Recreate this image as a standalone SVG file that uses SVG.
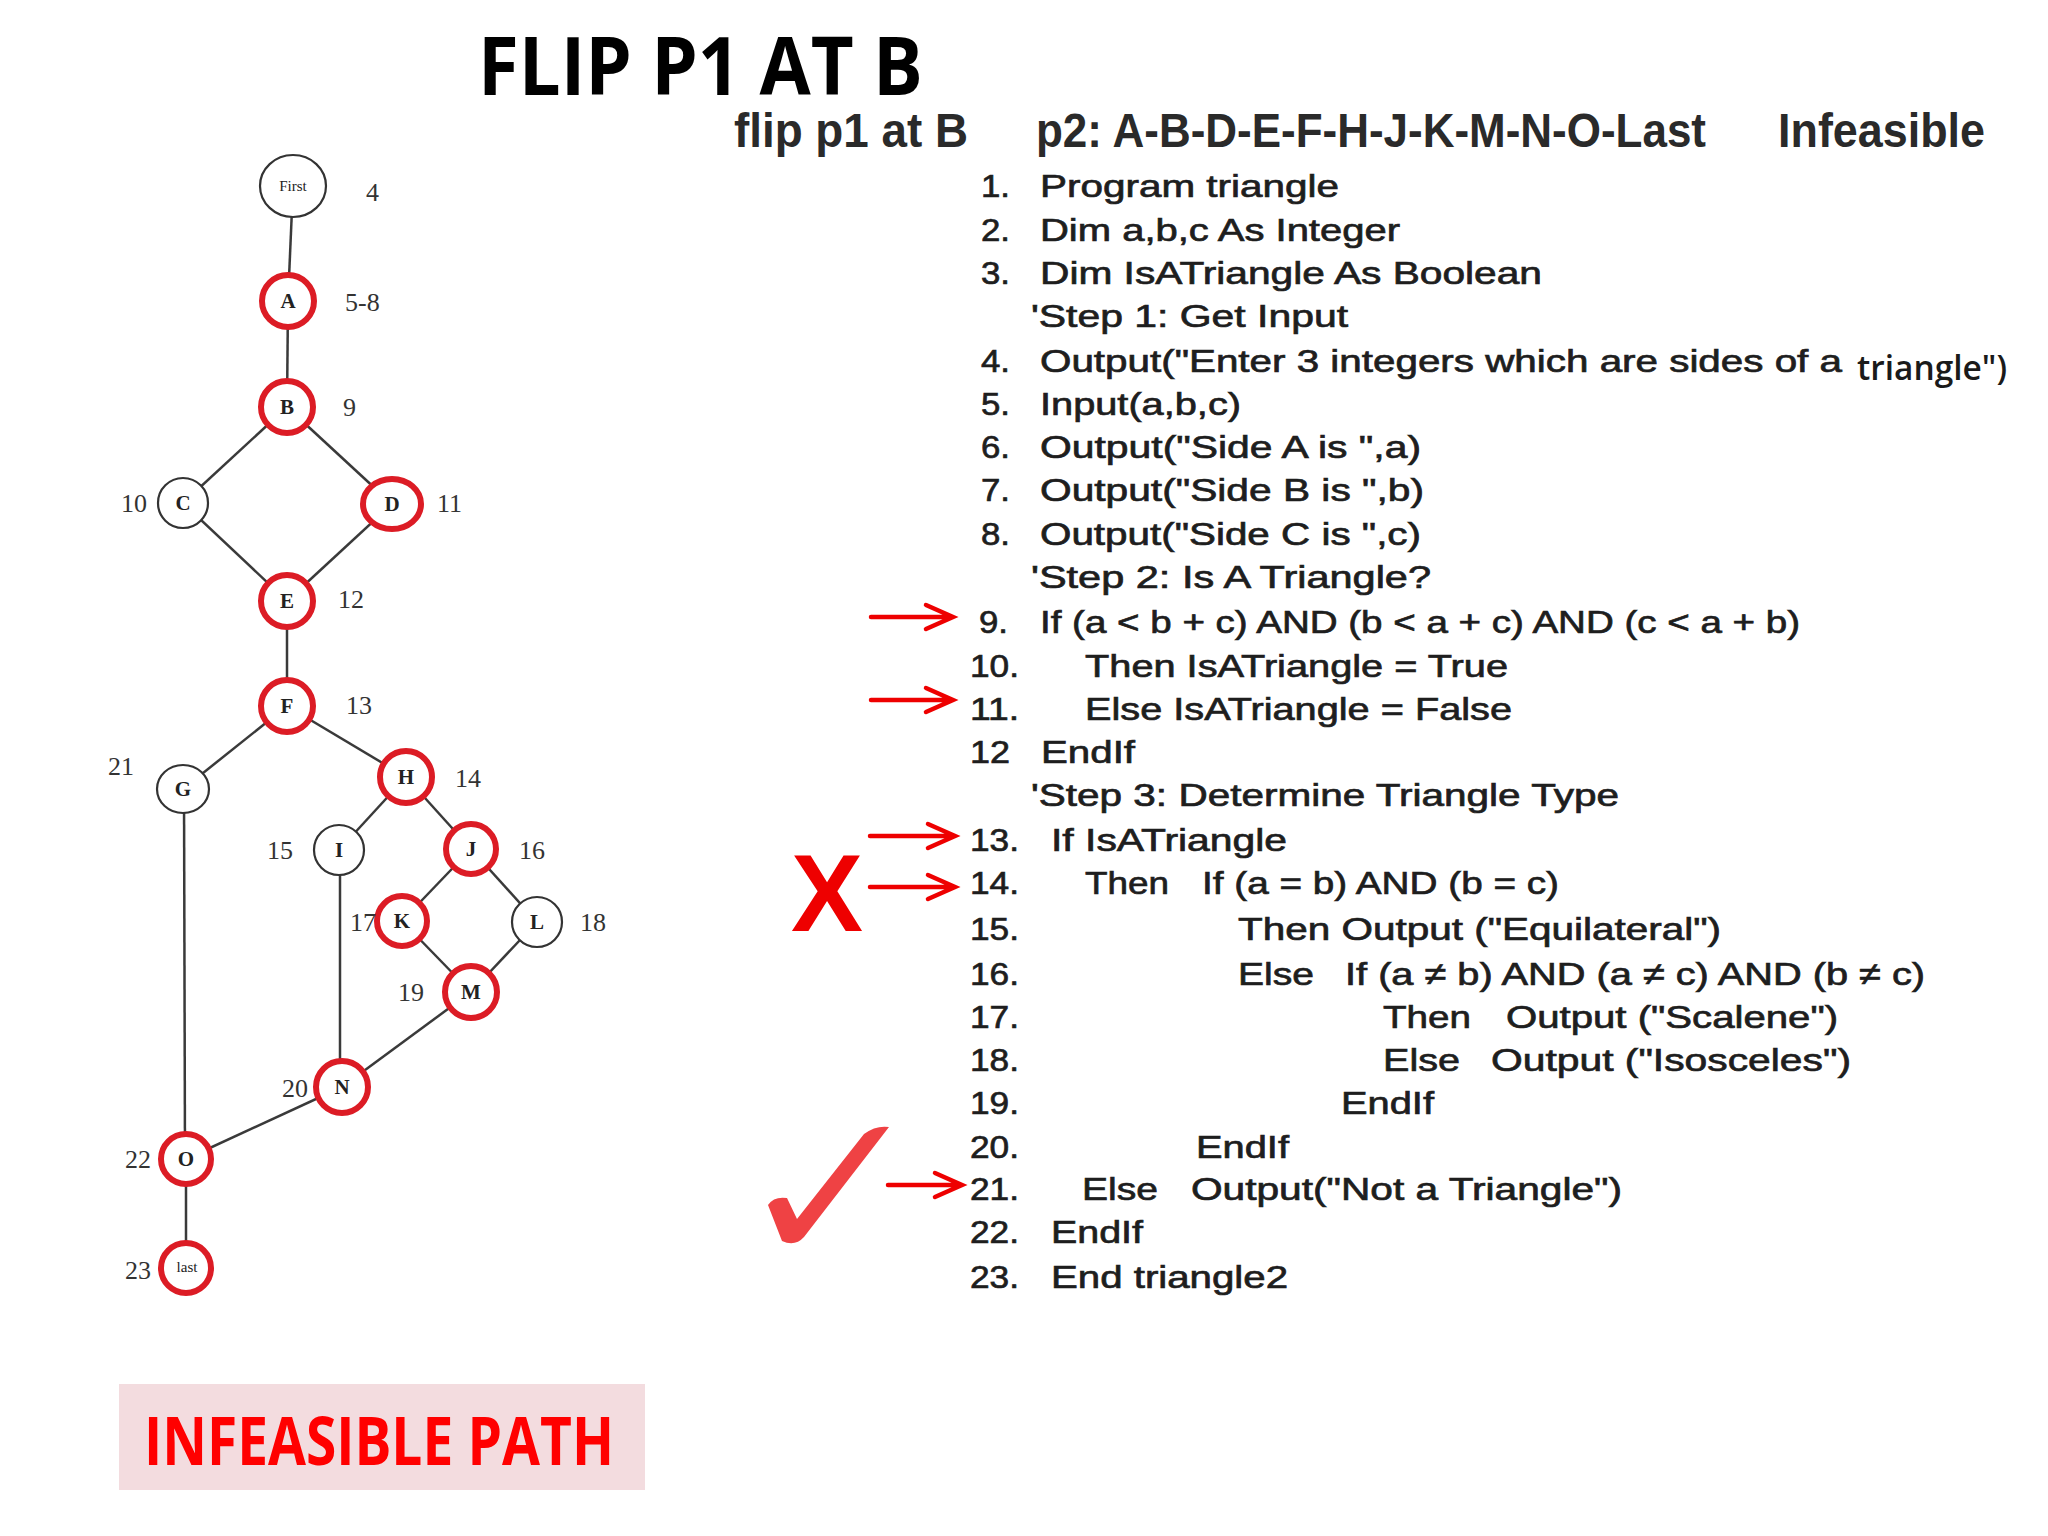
<svg xmlns="http://www.w3.org/2000/svg" width="2048" height="1536" viewBox="0 0 2048 1536">
<defs>
<style>
.title{font-family:"Open Sans","Liberation Sans",sans-serif;font-weight:bold;fill:#000}
.sub{font-family:"Liberation Sans",Arial,sans-serif;font-weight:bold;font-size:48px;fill:#2a2a2a}
.code{font-family:"Liberation Sans",Arial,sans-serif;font-size:32px;fill:#1e1e1e;stroke:#1e1e1e;stroke-width:0.7}
.code2{font-family:"Open Sans","Liberation Sans",sans-serif;font-weight:600;font-size:34px;fill:#1a1a1a}
.num{font-family:"Liberation Serif","Times New Roman",serif;font-size:26px;fill:#333}
.lbl{font-family:"Liberation Serif","Times New Roman",serif;font-weight:bold;font-size:21px;fill:#222;text-anchor:middle}
.lbls{font-family:"Liberation Serif","Times New Roman",serif;font-size:15px;fill:#222;text-anchor:middle}
.nb{fill:#fff;stroke:#333;stroke-width:2.2}
.nr{fill:#fff;stroke:#dc1c25;stroke-width:6}
.edge{stroke:#3a3a3a;stroke-width:2.5;fill:none}
.arr{stroke:#ee0000;stroke-width:4.5;fill:none;stroke-linecap:round;stroke-linejoin:miter}
</style>
</defs>
<rect width="2048" height="1536" fill="#ffffff"/>

<text class="title" x="478" y="95" font-size="80" textLength="445" lengthAdjust="spacingAndGlyphs">FLIP P1 AT B</text>

<g id="subheading">
<text class="sub" x="734" y="147" textLength="234" lengthAdjust="spacingAndGlyphs">flip p1 at B</text>
<text class="sub" x="1036" y="147" textLength="670" lengthAdjust="spacingAndGlyphs">p2: A-B-D-E-F-H-J-K-M-N-O-Last</text>
<text class="sub" x="1778" y="147" textLength="207" lengthAdjust="spacingAndGlyphs">Infeasible</text>
</g>

<g id="edges">
<line class="edge" x1="293" y1="186" x2="288" y2="301"/>
<line class="edge" x1="288" y1="301" x2="287" y2="407"/>
<line class="edge" x1="287" y1="407" x2="183" y2="503"/>
<line class="edge" x1="287" y1="407" x2="392" y2="504"/>
<line class="edge" x1="183" y1="503" x2="287" y2="601"/>
<line class="edge" x1="392" y1="504" x2="287" y2="601"/>
<line class="edge" x1="287" y1="601" x2="287" y2="706"/>
<line class="edge" x1="287" y1="706" x2="183" y2="789"/>
<line class="edge" x1="287" y1="706" x2="406" y2="777"/>
<line class="edge" x1="406" y1="777" x2="339" y2="850"/>
<line class="edge" x1="406" y1="777" x2="471" y2="849"/>
<line class="edge" x1="471" y1="849" x2="402" y2="921"/>
<line class="edge" x1="471" y1="849" x2="537" y2="922"/>
<line class="edge" x1="402" y1="921" x2="471" y2="992"/>
<line class="edge" x1="537" y1="922" x2="471" y2="992"/>
<line class="edge" x1="340" y1="850" x2="340" y2="1087"/>
<line class="edge" x1="471" y1="992" x2="342" y2="1087"/>
<line class="edge" x1="184" y1="789" x2="185" y2="1159"/>
<line class="edge" x1="342" y1="1087" x2="186" y2="1159"/>
<line class="edge" x1="186" y1="1159" x2="186" y2="1268"/>
</g>

<g id="node-first"><ellipse class="nb" cx="293" cy="186" rx="33" ry="31"/><text class="lbls" x="293" y="191">First</text></g>
<g id="node-A"><circle class="nr" cx="288" cy="301" r="26"/><text class="lbl" x="288" y="308">A</text></g>
<g id="node-B"><circle class="nr" cx="287" cy="407" r="26"/><text class="lbl" x="287" y="414">B</text></g>
<g id="node-C"><circle class="nb" cx="183" cy="503" r="25"/><text class="lbl" x="183" y="510">C</text></g>
<g id="node-D"><ellipse class="nr" cx="392" cy="504" rx="29" ry="25"/><text class="lbl" x="392" y="511">D</text></g>
<g id="node-E"><circle class="nr" cx="287" cy="601" r="26"/><text class="lbl" x="287" y="608">E</text></g>
<g id="node-F"><circle class="nr" cx="287" cy="706" r="26"/><text class="lbl" x="287" y="713">F</text></g>
<g id="node-G"><ellipse class="nb" cx="183" cy="789" rx="26" ry="24"/><text class="lbl" x="183" y="796">G</text></g>
<g id="node-H"><circle class="nr" cx="406" cy="777" r="26"/><text class="lbl" x="406" y="784">H</text></g>
<g id="node-I"><circle class="nb" cx="339" cy="850" r="25"/><text class="lbl" x="339" y="857">I</text></g>
<g id="node-J"><circle class="nr" cx="471" cy="849" r="25"/><text class="lbl" x="471" y="856">J</text></g>
<g id="node-K"><circle class="nr" cx="402" cy="921" r="25"/><text class="lbl" x="402" y="928">K</text></g>
<g id="node-L"><circle class="nb" cx="537" cy="922" r="25"/><text class="lbl" x="537" y="929">L</text></g>
<g id="node-M"><circle class="nr" cx="471" cy="992" r="26"/><text class="lbl" x="471" y="999">M</text></g>
<g id="node-N"><circle class="nr" cx="342" cy="1087" r="26"/><text class="lbl" x="342" y="1094">N</text></g>
<g id="node-O"><circle class="nr" cx="186" cy="1159" r="25"/><text class="lbl" x="186" y="1166">O</text></g>
<g id="node-last"><circle class="nr" cx="186" cy="1268" r="25"/><text class="lbls" x="187" y="1272">last</text></g>

<g id="line-numbers">
<text class="num" x="366" y="201">4</text>
<text class="num" x="345" y="311">5-8</text>
<text class="num" x="343" y="416">9</text>
<text class="num" x="121" y="512">10</text>
<text class="num" x="437" y="512">11</text>
<text class="num" x="338" y="608">12</text>
<text class="num" x="346" y="714">13</text>
<text class="num" x="108" y="775">21</text>
<text class="num" x="455" y="787">14</text>
<text class="num" x="267" y="859">15</text>
<text class="num" x="519" y="859">16</text>
<text class="num" x="350" y="931">17</text>
<text class="num" x="580" y="931">18</text>
<text class="num" x="398" y="1001">19</text>
<text class="num" x="282" y="1097">20</text>
<text class="num" x="125" y="1168">22</text>
<text class="num" x="125" y="1279">23</text>
</g>

<g id="code">
<text class="code" x="981" y="197" textLength="29" lengthAdjust="spacingAndGlyphs">1.</text>
<text class="code" x="1040" y="197" textLength="299" lengthAdjust="spacingAndGlyphs">Program triangle</text>
<text class="code" x="981" y="241" textLength="29" lengthAdjust="spacingAndGlyphs">2.</text>
<text class="code" x="1040" y="241" textLength="360" lengthAdjust="spacingAndGlyphs">Dim a,b,c As Integer</text>
<text class="code" x="981" y="284" textLength="29" lengthAdjust="spacingAndGlyphs">3.</text>
<text class="code" x="1040" y="284" textLength="502" lengthAdjust="spacingAndGlyphs">Dim IsATriangle As Boolean</text>
<text class="code" x="1031" y="327" textLength="317" lengthAdjust="spacingAndGlyphs">'Step 1:  Get Input</text>
<text class="code" x="981" y="372" textLength="29" lengthAdjust="spacingAndGlyphs">4.</text>
<text class="code" x="1040" y="372" textLength="802" lengthAdjust="spacingAndGlyphs">Output("Enter 3 integers which are sides of a</text>
<text class="code2" x="1857" y="380" textLength="150" lengthAdjust="spacingAndGlyphs">triangle")</text>
<text class="code" x="981" y="415" textLength="29" lengthAdjust="spacingAndGlyphs">5.</text>
<text class="code" x="1040" y="415" textLength="201" lengthAdjust="spacingAndGlyphs">Input(a,b,c)</text>
<text class="code" x="981" y="458" textLength="29" lengthAdjust="spacingAndGlyphs">6.</text>
<text class="code" x="1040" y="458" textLength="381" lengthAdjust="spacingAndGlyphs">Output("Side A is ",a)</text>
<text class="code" x="981" y="501" textLength="29" lengthAdjust="spacingAndGlyphs">7.</text>
<text class="code" x="1040" y="501" textLength="384" lengthAdjust="spacingAndGlyphs">Output("Side B is ",b)</text>
<text class="code" x="981" y="545" textLength="29" lengthAdjust="spacingAndGlyphs">8.</text>
<text class="code" x="1040" y="545" textLength="381" lengthAdjust="spacingAndGlyphs">Output("Side C is ",c)</text>
<text class="code" x="1031" y="588" textLength="400" lengthAdjust="spacingAndGlyphs">'Step 2:  Is A Triangle?</text>
<text class="code" x="979" y="633" textLength="29" lengthAdjust="spacingAndGlyphs">9.</text>
<text class="code" x="1040" y="633" textLength="760" lengthAdjust="spacingAndGlyphs">If (a &lt; b + c) AND (b &lt; a + c) AND (c &lt; a + b)</text>
<text class="code" x="970" y="677" textLength="49" lengthAdjust="spacingAndGlyphs">10.</text>
<text class="code" x="1085" y="677" textLength="423" lengthAdjust="spacingAndGlyphs">Then IsATriangle = True</text>
<text class="code" x="970" y="720" textLength="49" lengthAdjust="spacingAndGlyphs">11.</text>
<text class="code" x="1085" y="720" textLength="427" lengthAdjust="spacingAndGlyphs">Else IsATriangle = False</text>
<text class="code" x="970" y="763" textLength="40" lengthAdjust="spacingAndGlyphs">12</text>
<text class="code" x="1041" y="763" textLength="94" lengthAdjust="spacingAndGlyphs">EndIf</text>
<text class="code" x="1031" y="806" textLength="588" lengthAdjust="spacingAndGlyphs">'Step 3:  Determine Triangle Type</text>
<text class="code" x="970" y="851" textLength="49" lengthAdjust="spacingAndGlyphs">13.</text>
<text class="code" x="1051" y="851" textLength="236" lengthAdjust="spacingAndGlyphs">If IsATriangle</text>
<text class="code" x="970" y="894" textLength="49" lengthAdjust="spacingAndGlyphs">14.</text>
<text class="code" x="1085" y="894" textLength="84" lengthAdjust="spacingAndGlyphs">Then</text>
<text class="code" x="1202" y="894" textLength="357" lengthAdjust="spacingAndGlyphs">If (a = b) AND (b = c)</text>
<text class="code" x="970" y="940" textLength="49" lengthAdjust="spacingAndGlyphs">15.</text>
<text class="code" x="1238" y="940" textLength="483" lengthAdjust="spacingAndGlyphs">Then Output ("Equilateral")</text>
<text class="code" x="970" y="985" textLength="49" lengthAdjust="spacingAndGlyphs">16.</text>
<text class="code" x="1238" y="985" textLength="76" lengthAdjust="spacingAndGlyphs">Else</text>
<text class="code" x="1345" y="985" textLength="580" lengthAdjust="spacingAndGlyphs">If (a ≠ b) AND (a ≠  c) AND (b ≠ c)</text>
<text class="code" x="970" y="1028" textLength="49" lengthAdjust="spacingAndGlyphs">17.</text>
<text class="code" x="1383" y="1028" textLength="88" lengthAdjust="spacingAndGlyphs">Then</text>
<text class="code" x="1506" y="1028" textLength="332" lengthAdjust="spacingAndGlyphs">Output ("Scalene")</text>
<text class="code" x="970" y="1071" textLength="49" lengthAdjust="spacingAndGlyphs">18.</text>
<text class="code" x="1383" y="1071" textLength="77" lengthAdjust="spacingAndGlyphs">Else</text>
<text class="code" x="1491" y="1071" textLength="360" lengthAdjust="spacingAndGlyphs">Output ("Isosceles")</text>
<text class="code" x="970" y="1114" textLength="49" lengthAdjust="spacingAndGlyphs">19.</text>
<text class="code" x="1341" y="1114" textLength="93" lengthAdjust="spacingAndGlyphs">EndIf</text>
<text class="code" x="970" y="1158" textLength="49" lengthAdjust="spacingAndGlyphs">20.</text>
<text class="code" x="1196" y="1158" textLength="93" lengthAdjust="spacingAndGlyphs">EndIf</text>
<text class="code" x="970" y="1200" textLength="49" lengthAdjust="spacingAndGlyphs">21.</text>
<text class="code" x="1082" y="1200" textLength="76" lengthAdjust="spacingAndGlyphs">Else</text>
<text class="code" x="1191" y="1200" textLength="431" lengthAdjust="spacingAndGlyphs">Output("Not a Triangle")</text>
<text class="code" x="970" y="1243" textLength="49" lengthAdjust="spacingAndGlyphs">22.</text>
<text class="code" x="1051" y="1243" textLength="92" lengthAdjust="spacingAndGlyphs">EndIf</text>
<text class="code" x="970" y="1288" textLength="49" lengthAdjust="spacingAndGlyphs">23.</text>
<text class="code" x="1051" y="1288" textLength="237" lengthAdjust="spacingAndGlyphs">End triangle2</text>
</g>

<g id="arrows">
<path class="arr" d="M871,617 H952 M926,605 L953,617 L926,629"/>
<path class="arr" d="M871,700 H952 M926,688 L953,700 L926,712"/>
<path class="arr" d="M870,836 H954 M928,824 L955,836 L928,848"/>
<path class="arr" d="M870,887 H954 M928,875 L955,887 L928,899"/>
<path class="arr" d="M888,1185 H961 M935,1173 L962,1185 L935,1197"/>
</g>

<text x="827" y="931" font-family="'Liberation Sans',Arial,sans-serif" font-weight="bold" font-size="110" fill="#ee0000" text-anchor="middle" textLength="72" lengthAdjust="spacingAndGlyphs">X</text>

<path id="checkmark" d="M768,1205 Q774,1196 787,1198 L797,1219 L864,1134 Q876,1125 889,1127 L804,1237 Q795,1247 782,1241 Z" fill="#ef4244"/>

<g id="infeasible-box">
<rect x="119" y="1384" width="526" height="106" fill="#f3dcdf"/>
<text x="144" y="1465" font-family="'Open Sans','Liberation Sans',sans-serif" font-weight="bold" font-size="66" fill="#ff0000" textLength="470" lengthAdjust="spacingAndGlyphs">INFEASIBLE PATH</text>
</g>
</svg>
